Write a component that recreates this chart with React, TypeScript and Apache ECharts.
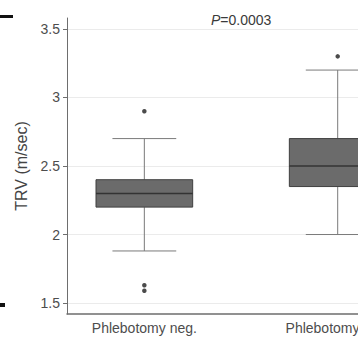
import React, { useEffect, useRef } from "react";
import * as echarts from "echarts";

const categories = ["Phlebotomy neg.", "Phlebotomy pos."];
const lowerWhisker = [1.88, 2.0];
const q1Values = [2.2, 2.35];
const medianValues = [2.3, 2.5];
const q3Values = [2.4, 2.7];
const upperWhisker = [2.7, 3.2];
const outlierCategory = [0, 0, 0, 1];
const outlierValues = [2.9, 1.63, 1.59, 3.3];
const yTickValues = [1.5, 2, 2.5, 3, 3.5];
const yLabels = ["1.5", "2", "2.5", "3", "3.5"];
const pValueText = "=0.0003";

const FONT = "'Liberation Sans', Arial, sans-serif";

export default function App() {
  const ref = useRef<HTMLDivElement>(null);
  useEffect(() => {
    if (!ref.current) return;
    const chart = echarts.init(ref.current, null, { renderer: "svg" });
    const boxData = categories.map((_, i) => [
      i + 1,
      lowerWhisker[i],
      q1Values[i],
      medianValues[i],
      q3Values[i],
      upperWhisker[i],
    ]);
    const outData = outlierValues.map((v, i) => [outlierCategory[i] + 1, v]);
    const BOX_W = 0.5;
    const WHISKER_W = 0.33;
    chart.setOption({
      animation: false,
      backgroundColor: "#ffffff",
      title: {
        text: "{i|P}" + pValueText,
        left: 211,
        top: 13,
        padding: 0,
        textStyle: {
          fontFamily: FONT,
          fontSize: 14,
          fontWeight: "normal",
          color: "#3a3a3a",
          rich: {
            i: { fontStyle: "italic", fontFamily: FONT, fontSize: 14, color: "#3a3a3a" },
          },
        },
      },
      grid: { left: 67, top: 18, right: 0, height: 296, containLabel: false, outerBoundsMode: "none" },
      xAxis: {
        type: "value",
        min: 0.6,
        max: 2.105,
        splitLine: { show: false },
        axisTick: { show: false },
        axisLine: { show: true, lineStyle: { color: "#6e6e6e", width: 1.5 } },
        axisLabel: {
          customValues: [1, 2],
          margin: 7,
          fontFamily: FONT,
          fontSize: 14,
          color: "#4d4d4d",
          formatter: (v: number) =>
            Math.abs(v - Math.round(v)) < 1e-6 ? categories[Math.round(v) - 1] ?? "" : "",
        },
      },
      yAxis: {
        type: "value",
        min: 1.42,
        max: 3.58,
        name: "TRV (m/sec)",
        nameLocation: "middle",
        nameGap: 23,
        nameTextStyle: { fontFamily: FONT, fontSize: 16, color: "#444444" },
        axisLine: { show: true, lineStyle: { color: "#6e6e6e", width: 1 } },
        axisTick: { show: true, length: 4, customValues: yTickValues, lineStyle: { color: "#6e6e6e" } },
        splitLine: { show: true, lineStyle: { color: "#ebebeb", width: 1 } },
        axisLabel: {
          customValues: yTickValues,
          margin: 7,
          fontFamily: FONT,
          fontSize: 14,
          color: "#4d4d4d",
          formatter: (v: number) => {
            const idx = yTickValues.findIndex((t) => Math.abs(t - v) < 1e-6);
            return idx >= 0 ? yLabels[idx] : "";
          },
        },
      },
      series: [
        {
          type: "custom",
          data: boxData,
          clip: false,
          encode: { x: 0, y: [1, 2, 3, 4, 5] },
          renderItem: (params: any, api: any) => {
            const x = api.value(0);
            const lo = api.coord([x, api.value(1)]);
            const q1 = api.coord([x, api.value(2)]);
            const med = api.coord([x, api.value(3)]);
            const q3 = api.coord([x, api.value(4)]);
            const hi = api.coord([x, api.value(5)]);
            const bw = api.size([BOX_W, 0])[0];
            const ww = api.size([WHISKER_W, 0])[0];
            const wStyle = { stroke: "#7a7a7a", lineWidth: 1 };
            return {
              type: "group",
              children: [
                { type: "line", shape: { x1: hi[0], y1: hi[1], x2: q3[0], y2: q3[1] }, style: wStyle },
                { type: "line", shape: { x1: q1[0], y1: q1[1], x2: lo[0], y2: lo[1] }, style: wStyle },
                { type: "line", shape: { x1: hi[0] - ww / 2, y1: hi[1], x2: hi[0] + ww / 2, y2: hi[1] }, style: wStyle },
                { type: "line", shape: { x1: lo[0] - ww / 2, y1: lo[1], x2: lo[0] + ww / 2, y2: lo[1] }, style: wStyle },
                {
                  type: "rect",
                  shape: { x: q3[0] - bw / 2, y: q3[1], width: bw, height: q1[1] - q3[1] },
                  style: { fill: "#6b6b6b", stroke: "#3f3f3f", lineWidth: 1 },
                },
                {
                  type: "line",
                  shape: { x1: med[0] - bw / 2, y1: med[1], x2: med[0] + bw / 2, y2: med[1] },
                  style: { stroke: "#333333", lineWidth: 1.5 },
                },
              ],
            };
          },
          z: 3,
        },
        {
          type: "scatter",
          data: outData,
          clip: false,
          symbol: "circle",
          symbolSize: 4.5,
          itemStyle: { color: "#1e1e1e" },
          z: 4,
        },
      ],
      graphic: [
        { type: "rect", shape: { x: 0, y: 15, width: 13, height: 3 }, style: { fill: "#111111" } },
        { type: "rect", shape: { x: 0, y: 303, width: 5, height: 4 }, style: { fill: "#111111" } },
      ],
    });
    return () => chart.dispose();
  }, []);
  return (
    <div
      ref={ref}
      style={{ position: "fixed", left: 0, top: 0, width: 358, height: 339, background: "#fff" }}
    />
  );
}
